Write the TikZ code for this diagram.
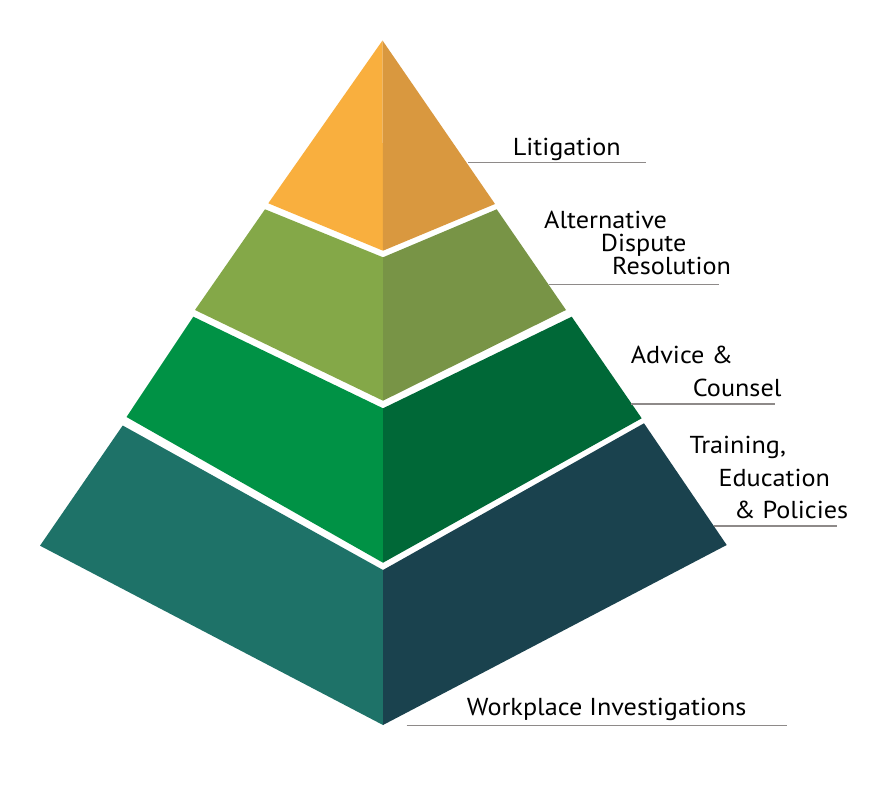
\documentclass[tikz,border=0pt]{standalone}
\usepackage{fontspec}
\setmainfont[FakeStretch=1.07]{PT Sans}

\definecolor{orangeL}{HTML}{F9AF3E}
\definecolor{orangeR}{HTML}{D9983F}
\definecolor{oliveL}{HTML}{84A848}
\definecolor{oliveR}{HTML}{789446}
\definecolor{greenL}{HTML}{009245}
\definecolor{greenR}{HTML}{006837}
\definecolor{tealL}{HTML}{1E7268}
\definecolor{tealR}{HTML}{1A424E}
\definecolor{rulegray}{HTML}{8E8A89}

\tikzset{
  face/.style={draw=none},
  tag/.style={anchor=base west, inner sep=0pt, font=\fontsize{24.5}{24.5}\selectfont, text=black},
  underline/.style={draw=rulegray, line width=1.3pt}
}

\begin{document}
\begin{tikzpicture}[x=1pt, y=-1pt]
  \useasboundingbox[fill=white] (0,0) rectangle (880,795);

  % top: litigation
  \fill[face, orangeL] (382.5,40.5) -- (268.3,203.3) -- (383,250.7) -- cycle;
  \fill[face, orangeR] (382.5,40.5) -- (383,250.7) -- (495,204) -- cycle;

  % alternative dispute resolution
  \fill[face, oliveL] (265,209.3) -- (383,257.3) -- (383,400.7) -- (195,310) -- cycle;
  \fill[face, oliveR] (383,257.3) -- (496.7,209.3) -- (566,310) -- (383,400.7) -- cycle;

  % advice and counsel
  \fill[face, greenL] (193.3,316.7) -- (383,408.3) -- (383,562.7) -- (126.5,417) -- cycle;
  \fill[face, greenR] (383,408.3) -- (571.7,316.7) -- (641.7,418.3) -- (383,562.7) -- cycle;

  % base: training, education, policies
  \fill[face, tealL] (122.7,425.5) -- (383,570) -- (383,725) -- (40,545.7) -- cycle;
  \fill[face, tealR] (383,570) -- (644,423.3) -- (726.7,545) -- (383,725) -- cycle;

  % labels
  \node[tag] (lit) at (512.7,155) {Litigation};
  \node[tag] (adrA) at (544,228) {Alternative};
  \node[tag] (adrB) at (600.7,251.5) {Dispute};
  \node[tag] (adrC) at (612,274) {Resolution};
  \node[tag] (advA) at (630.7,363.3) {Advice \&};
  \node[tag] (advB) at (692.7,396) {Counsel};
  \node[tag] (trnA) at (689.3,453.3) {Training,};
  \node[tag] (trnB) at (718.3,486) {Education};
  \node[tag] (trnC) at (734,518.3) {\& Policies};
  \node[tag] (work) at (466.7,715) {Workplace Investigations};

  % rules under the labels
  \coordinate (litS) at (468,162.7);   \coordinate (litE) at (646,162.7);
  \coordinate (adrS) at (549,284.3);   \coordinate (adrE) at (719.3,284.3);
  \coordinate (advS) at (631,404);     \coordinate (advE) at (775,404);
  \coordinate (trnS) at (713.5,526);   \coordinate (trnE) at (836.7,526);
  \coordinate (workS) at (406.7,725.3); \coordinate (workE) at (787.3,725.3);
  \draw[underline] (litS) -- (litE);
  \draw[underline] (adrS) -- (adrE);
  \draw[underline] (advS) -- (advE);
  \draw[underline] (trnS) -- (trnE);
  \draw[underline] (workS) -- (workE);
\end{tikzpicture}
\end{document}
